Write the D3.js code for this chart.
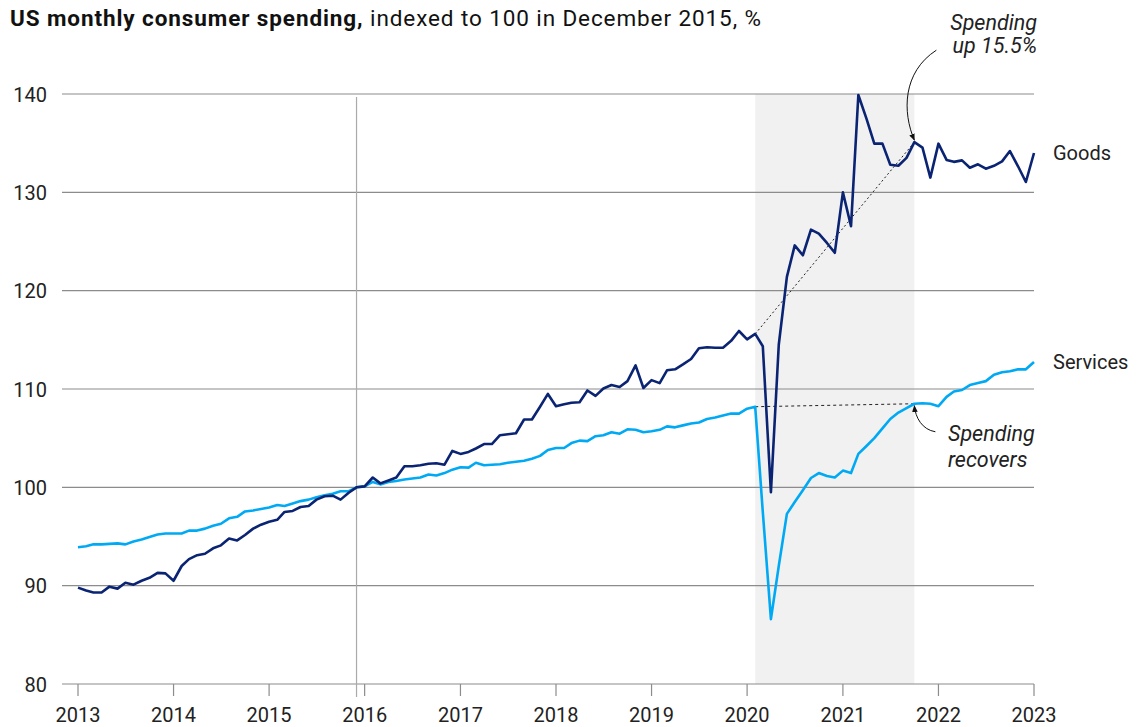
<!DOCTYPE html>
<html>
<head>
<meta charset="utf-8">
<script src="https://cdn.jsdelivr.net/npm/d3@7/dist/d3.min.js"></script>
<style>
  body { margin: 0; background: #fff; }
  svg { font-family: Roboto, "Liberation Sans", sans-serif; }
</style>
</head>
<body>
<svg id="chart"></svg>
<script>
// monthly values, Jan 2013 .. Jan 2023
const startMonth = new Date(2013, 0, 1);
const goods = [
  89.8, 89.5, 89.3, 89.3, 89.9, 89.7, 90.3, 90.1, 90.5, 90.8, 91.3, 91.25,
  90.5, 92.0, 92.7, 93.1, 93.25, 93.8, 94.1, 94.8, 94.6, 95.15, 95.8, 96.2,
  96.5, 96.7, 97.5, 97.6, 98.0, 98.1, 98.75, 99.1, 99.15, 98.75, 99.45, 100.0,
  100.1, 101.0, 100.4, 100.7, 101.0, 102.15, 102.15, 102.25, 102.4, 102.45, 102.3, 103.7,
  103.4, 103.6, 103.95, 104.4, 104.4, 105.3, 105.4, 105.5, 106.9, 106.9, 108.2, 109.5,
  108.25, 108.45, 108.6, 108.65, 109.85, 109.3, 110.05, 110.4, 110.2, 110.8, 112.4, 110.1,
  110.9, 110.6, 111.9, 112.0, 112.5, 113.05, 114.15, 114.25, 114.2, 114.2, 114.9, 115.9,
  115.05, 115.6, 114.35, 99.5, 114.5, 121.4, 124.6, 123.6, 126.2, 125.8, 124.85, 123.85,
  130.0, 126.55, 139.9, 137.5, 134.95, 134.95, 132.8, 132.7, 133.5, 135.1, 134.55, 131.5,
  134.95, 133.3, 133.1, 133.25, 132.5, 132.85, 132.4, 132.7, 133.15, 134.2, 132.65, 131.05,
  134.0
];
const services = [
  93.9, 94.0, 94.2, 94.2, 94.25, 94.3, 94.2, 94.5, 94.7, 94.95, 95.2, 95.3,
  95.3, 95.3, 95.6, 95.6, 95.8, 96.1, 96.3, 96.85, 97.0, 97.55, 97.65, 97.8,
  97.95, 98.2, 98.1, 98.35, 98.6, 98.75, 99.0, 99.2, 99.35, 99.6, 99.6, 100.0,
  100.1, 100.55, 100.3, 100.55, 100.65, 100.8, 100.9, 101.0, 101.3, 101.2, 101.45, 101.8,
  102.05, 102.0, 102.5, 102.25, 102.3, 102.35, 102.5, 102.6, 102.7, 102.9, 103.2, 103.8,
  104.0, 104.0, 104.5, 104.75, 104.7, 105.2, 105.3, 105.6, 105.45, 105.9, 105.85, 105.6,
  105.7, 105.85, 106.2, 106.1, 106.3, 106.5, 106.6, 106.95, 107.1, 107.3, 107.5, 107.5,
  108.0, 108.2, 97.5, 86.6, 92.0, 97.3, 98.5, 99.7, 100.95, 101.45, 101.15, 101.0,
  101.7, 101.45, 103.4, 104.2, 105.0, 106.0, 106.95, 107.6, 108.05, 108.5, 108.55, 108.5,
  108.25, 109.2, 109.75, 109.9, 110.4, 110.6, 110.8, 111.45, 111.7, 111.8, 112.0, 112.0,
  112.75
];
const yTicks = [80, 90, 100, 110, 120, 130, 140];
const xTickYears = [2013, 2014, 2015, 2016, 2017, 2018, 2019, 2020, 2021, 2022, 2023];
const baseIndex = 35;     // Dec 2015 = 100
const shadeFrom = 85;     // Feb 2020
const shadeTo = 105;      // Oct 2021

const width = 1147, height = 727;
const svg = d3.select('#chart').attr('width', width).attr('height', height);

const dates = goods.map((_, i) => d3.timeMonth.offset(startMonth, i));

const x = d3.scaleTime()
  .domain([new Date(2013, 0, 1), new Date(2023, 0, 1)])
  .range([78, 1034]);
const y = d3.scaleLinear().domain([80, 140]).range([684, 94]);

// title
const title = svg.append('text').attr('x', 10).attr('y', 26)
  .attr('font-size', 22.5).attr('letter-spacing', 0.9).attr('fill', '#111');
title.append('tspan').attr('font-weight', 700).text('US monthly consumer spending,');
title.append('tspan').attr('font-weight', 400).text(' indexed to 100 in December 2015, %');

// shaded period
svg.append('rect')
  .attr('x', x(dates[shadeFrom]))
  .attr('y', y(140))
  .attr('width', x(dates[shadeTo]) - x(dates[shadeFrom]))
  .attr('height', y(80) - y(140))
  .attr('fill', '#f1f1f1');

// gridlines + y labels
svg.append('g').selectAll('line').data(yTicks).enter().append('line')
  .attr('x1', 62).attr('x2', 1034)
  .attr('y1', d => y(d)).attr('y2', d => y(d))
  .attr('stroke', '#8c8c8c').attr('stroke-width', 1.2);

svg.append('g').selectAll('text').data(yTicks).enter().append('text')
  .attr('x', 47).attr('y', d => y(d) + 7.5)
  .attr('text-anchor', 'end').attr('font-size', 20).attr('fill', '#222')
  .text(d => d);

// vertical base line at Dec 2015
svg.append('line')
  .attr('x1', x(dates[baseIndex])).attr('x2', x(dates[baseIndex]))
  .attr('y1', y(140) + 3).attr('y2', y(80) + 13)
  .attr('stroke', '#aaa').attr('stroke-width', 1.2);

// x axis ticks
const xa = svg.append('g');
xa.selectAll('line').data(xTickYears).enter().append('line')
  .attr('x1', d => x(new Date(d, 0, 1))).attr('x2', d => x(new Date(d, 0, 1)))
  .attr('y1', y(80)).attr('y2', y(80) + 12)
  .attr('stroke', '#8c8c8c').attr('stroke-width', 1.2);
xa.selectAll('text').data(xTickYears).enter().append('text')
  .attr('x', d => x(new Date(d, 0, 1))).attr('y', 722)
  .attr('text-anchor', 'middle').attr('font-size', 20).attr('fill', '#222')
  .text(d => d);

// dotted reference lines
const defs = svg.append('defs');
defs.append('marker').attr('id', 'arrow')
  .attr('viewBox', '0 0 10 10').attr('refX', 9).attr('refY', 5)
  .attr('markerWidth', 7).attr('markerHeight', 7).attr('orient', 'auto-start-reverse')
  .append('path').attr('d', 'M0,1 L10,5 L0,9 Z').attr('fill', '#111');

svg.append('line')
  .attr('x1', x(dates[shadeFrom])).attr('y1', y(goods[shadeFrom]))
  .attr('x2', x(dates[shadeTo])).attr('y2', y(goods[shadeTo]))
  .attr('stroke', '#222').attr('stroke-width', 1).attr('stroke-dasharray', '2,2.5');
svg.append('line')
  .attr('x1', x(dates[shadeFrom])).attr('y1', y(services[shadeFrom]))
  .attr('x2', x(dates[shadeTo])).attr('y2', y(services[shadeTo]))
  .attr('stroke', '#222').attr('stroke-width', 1).attr('stroke-dasharray', '3,3');

// series lines
const line = vals => d3.line()
  .x((d, i) => x(dates[i]))
  .y(d => y(d))(vals);

svg.append('path').attr('d', line(services))
  .attr('fill', 'none').attr('stroke', '#00a9f4').attr('stroke-width', 2.6)
  .attr('stroke-linejoin', 'round');
svg.append('path').attr('d', line(goods))
  .attr('fill', 'none').attr('stroke', '#0a2473').attr('stroke-width', 2.6)
  .attr('stroke-linejoin', 'round');

// series labels
svg.append('text').attr('x', 1053).attr('y', y(goods[120]) + 7)
  .attr('font-size', 20).attr('fill', '#222').text('Goods');
svg.append('text').attr('x', 1053).attr('y', y(services[120]) + 7)
  .attr('font-size', 20).attr('fill', '#222').text('Services');

// annotations
const gx = x(dates[shadeTo]), gy = y(goods[shadeTo]);
svg.append('path')
  .attr('d', `M${gx + 22},${gy - 92} C${gx - 12},${gy - 70} ${gx - 12},${gy - 30} ${gx},${gy - 2}`)
  .attr('fill', 'none').attr('stroke', '#111').attr('stroke-width', 1)
  .attr('marker-end', 'url(#arrow)');
const t1 = svg.append('text').attr('text-anchor', 'end').attr('font-size', 21.5)
  .attr('font-style', 'italic').attr('fill', '#222');
t1.append('tspan').attr('x', 1037).attr('y', 30).text('Spending');
t1.append('tspan').attr('x', 1037).attr('y', 53).text('up 15.5%');

const sx = x(dates[shadeTo]), sy = y(services[shadeTo]);
svg.append('path')
  .attr('d', `M${sx + 21},${sy + 28} C${sx + 8},${sy + 26} ${sx + 1},${sy + 14} ${sx},${sy + 2}`)
  .attr('fill', 'none').attr('stroke', '#111').attr('stroke-width', 1)
  .attr('marker-end', 'url(#arrow)');
const t2 = svg.append('text').attr('font-size', 21.5)
  .attr('font-style', 'italic').attr('fill', '#222');
t2.append('tspan').attr('x', 948).attr('y', 441).text('Spending');
t2.append('tspan').attr('x', 948).attr('y', 467).text('recovers');
</script>
</body>
</html>
